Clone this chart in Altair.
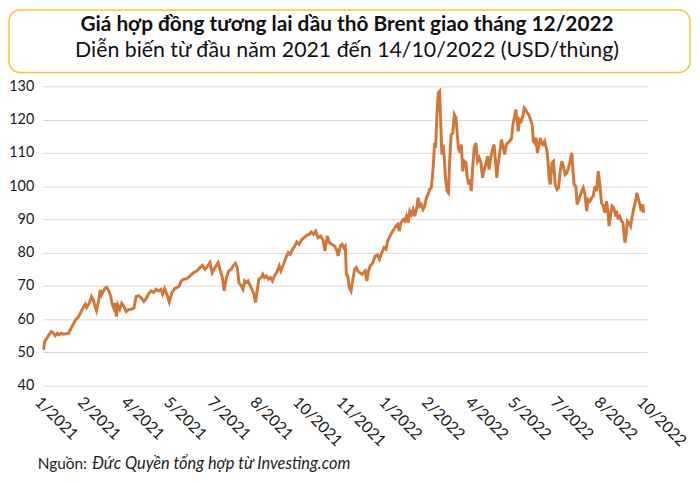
import altair as alt
import pandas as pd

# ---------------- data ----------------
# days since 2021-01-01 for each sampled point of the Dec-2022 Brent futures line
day_offsets = [
    3.0, 4.1, 6.6, 8.7, 11.3, 13.0, 15.5, 17.7, 19.4, 22.0, 23.7, 27.3, 30.1, 32.6, 35.1, 38.0, 40.8, 43.3, 45.8, 47.9,
    49.3, 52.2, 54.7, 56.8, 58.6, 60.0, 62.2, 64.0, 65.4, 67.2, 69.0, 71.1, 73.6, 75.4, 77.1, 78.6, 80.0, 81.4, 82.9, 85.0,
    87.2, 89.6, 92.1, 94.2, 96.8, 100.3, 102.8, 105.7, 108.5, 111.0,
    113.5, 116.4, 118.8, 121.7, 124.2, 127.0, 129.5, 131.3, 133.5, 135.9, 138.5, 141.3, 144.1, 146.6, 149.2, 151.3, 153.8,
    157.3, 160.9, 164.5, 168.0, 171.6, 174.1, 177.0, 179.4, 182.3, 184.8, 187.6, 191.2, 193.6, 195.8, 197.6, 200.1, 202.6,
    205.4, 207.2, 209.7, 211.8, 213.6, 216.1, 217.9,
    219.7, 221.4, 223.3, 225.0, 227.5, 229.7, 231.5, 233.2, 235.0, 237.5, 239.3, 241.1, 243.2, 245.4, 247.5, 249.7, 251.8,
    254.6, 257.1, 258.9, 261.7, 264.2, 266.8, 268.9, 271.4, 273.8, 276.0, 278.5, 281.0, 283.9, 286.6, 289.2, 291.7, 293.8,
    296.3, 298.8, 301.6, 304.2, 306.3, 308.8, 311.2, 314.1, 316.6, 318.7, 320.5, 323.0, 324.8,
    326.6, 328.3, 329.4, 330.9, 332.6, 334.4, 336.2, 338.4, 340.1, 341.9, 343.7, 346.2, 348.0, 349.7, 351.5, 353.3, 355.1,
    358.0, 360.4, 363.0, 365.1, 367.6, 370.0, 372.2, 374.0, 376.5, 378.3, 380.7, 382.8, 384.7, 386.5, 388.2, 390.8, 392.5,
    394.3, 396.1, 397.8, 399.6, 401.4, 403.2, 405.0, 406.8, 408.5, 410.3, 412.1, 413.9, 415.7, 417.5, 419.2, 421.0, 422.1,
    423.5, 424.5, 425.6, 427.1, 428.5, 429.9,
    431.0, 432.4, 433.8, 434.9, 436.3, 438.1, 439.5, 440.6, 442.4, 444.2, 445.9, 447.7, 448.8, 450.2, 452.0, 453.4, 454.9,
    456.6, 458.4, 459.8, 461.3, 462.7, 464.1, 465.6, 467.3, 469.1, 470.9, 472.7, 474.5, 476.3, 478.0, 479.8, 481.6, 483.3,
    485.1, 486.9, 488.7, 490.5, 491.6, 493.0, 494.8, 496.6, 498.3, 500.1, 501.9, 503.7, 505.5, 507.6, 509.0, 510.8, 512.2,
    513.7, 514.8, 516.2, 518.0, 519.7, 521.2, 522.6, 524.4, 526.1, 527.9, 529.7, 531.1, 532.5, 534.0, 535.4, 536.8, 538.6,
    539.7, 541.1, 543.2, 545.8, 546.8, 548.2, 549.3, 551.1, 552.8, 554.6, 556.5, 558.2, 560.0, 561.8, 563.5, 565.3, 567.1,
    568.9, 570.7, 572.5, 573.5, 575.0, 576.8, 578.2, 579.6, 581.4, 583.2, 584.9, 586.7, 588.5, 590.2, 592.1, 593.8, 595.6,
    597.4, 599.2, 601.0, 602.7, 604.5, 606.3, 608.1, 609.9, 611.6, 612.7, 614.2, 615.9, 617.7, 619.5, 620.9, 622.3, 624.1,
    625.9, 627.7, 628.7, 629.8, 630.9, 632.4, 634.1, 635.9, 637.7, 639.4, 641.2, 642.6, 644.4, 645.8, 647.3, 649.0, 650.1,
]

# price in USD/barrel
brent_dec22 = [
    50.8, 53.3, 54.3, 55.3, 56.3, 56.0, 55.0, 55.8, 55.3, 55.8, 55.5, 55.6, 55.8, 57.3, 58.6, 60.0, 60.8, 62.3, 63.6, 64.5,
    63.5, 64.8, 66.8, 65.6, 63.8, 62.6, 65.3, 68.8, 67.3, 68.3, 69.3, 69.6, 68.3, 66.8, 64.3, 63.3, 64.8, 60.8, 64.3, 63.0,
    64.8, 63.8, 62.3, 62.8, 63.0, 63.3, 66.8, 67.0, 66.3, 65.3,
    66.2, 67.8, 68.5, 68.0, 69.0, 68.5, 69.0, 67.5, 69.2, 67.5, 65.2, 68.0, 69.2, 69.5, 70.0, 71.5, 72.0,
    72.2, 73.0, 74.0, 74.5, 75.5, 76.2, 75.0, 75.8, 77.0, 74.0, 75.5, 77.0, 74.5, 72.5, 68.5, 72.5, 74.5,
    75.0, 76.0, 76.8, 75.5, 71.0, 70.0, 69.0,
    71.5, 71.0, 71.5, 70.5, 69.0, 67.5, 65.0, 68.5, 72.0, 72.5, 73.5, 72.5, 73.0, 72.0, 72.5, 71.5, 73.0,
    74.2, 76.0, 74.5, 76.5, 78.5, 80.0, 79.5, 81.0, 82.0, 83.2, 82.5, 83.8, 84.5, 85.2, 85.5, 86.2, 85.5,
    86.5, 84.5, 85.0, 83.8, 80.5, 85.0, 83.0, 82.5, 82.0, 81.0, 79.0, 82.0, 82.5,
    81.5, 82.0, 73.5, 73.0, 69.5, 68.5, 71.5, 75.0, 75.5, 74.5, 74.0, 73.5, 74.0, 74.5, 71.5, 74.5, 76.0,
    77.0, 79.0, 79.3, 78.0, 80.0, 81.5, 81.0, 83.5, 85.0, 86.0, 87.0, 88.0, 88.5, 86.5, 89.0, 90.0, 89.5,
    91.0, 89.0, 92.5, 91.5, 93.0, 91.0, 93.0, 96.5, 94.0, 94.5, 93.0, 94.0, 96.5, 97.5, 99.0, 99.5, 102.5,
    107.5, 113.0, 111.5, 121.5, 128.0, 128.5,
    120.5, 109.5, 112.5, 109.0, 102.5, 98.5, 98.0, 106.5, 115.5, 116.0, 121.5, 120.5, 116.5, 111.5, 110.0, 112.5, 104.5,
    107.5, 107.0, 102.5, 100.5, 102.0, 98.5, 105.5, 111.5, 113.0, 107.5, 108.5, 107.0, 102.5, 105.0, 106.5, 109.0, 105.0,
    108.5, 111.0, 112.5, 106.5, 102.5, 106.5, 110.0, 114.0, 112.0, 109.5, 112.5, 113.0, 113.5, 114.5, 118.5, 121.0, 123.0,
    119.5, 116.5, 120.0, 119.5, 121.0, 123.5, 123.0, 122.0, 121.5, 120.0, 118.5, 113.5, 113.0, 114.5, 110.0, 112.0, 114.5,
    113.0, 112.5, 113.5, 110.5, 107.5, 102.0, 100.5, 107.0, 107.5, 100.5, 99.0, 99.5, 104.5, 107.5, 106.0, 103.5, 104.0,
    105.5, 107.5, 110.0, 105.5, 100.5, 100.0, 94.5, 95.5, 97.0, 98.5, 99.5, 97.5, 92.5, 96.0, 95.5, 96.5, 97.0,
    100.0, 98.5, 104.5, 100.5, 95.0, 94.0, 92.0, 95.5, 92.0, 88.0, 91.0, 94.0, 93.5, 91.5, 92.0, 90.5, 91.0,
    89.5, 89.0, 86.0, 83.0, 85.0, 89.5, 89.0, 88.0, 91.0, 93.5, 95.5, 98.0, 96.0, 94.5, 92.5, 94.5, 92.0,
]

# x-axis tick positions (labelled m/yyyy)
tick_dates = ["2021-01-03", "2021-02-18", "2021-04-06", "2021-05-22", "2021-07-08", "2021-08-23",
              "2021-10-08", "2021-11-24", "2022-01-09", "2022-02-24", "2022-04-12", "2022-05-28",
              "2022-07-13", "2022-08-29", "2022-10-14"]
y_ticks = [40, 50, 60, 70, 80, 90, 100, 110, 120, 130]

title_text = "Giá hợp đồng tương lai dầu thô Brent giao tháng 12/2022"
subtitle_text = "Diễn biến từ đầu năm 2021 đến 14/10/2022 (USD/thùng)"
source_label = "Nguồn:"
source_text = "Đức Quyền tổng hợp từ Investing.com"

# ---------------- build ----------------
df = pd.DataFrame({
    "date": pd.Timestamp("2021-01-01") + pd.to_timedelta(day_offsets, unit="D"),
    "price": brent_dec22,
})


def dt(s):
    y, m, d = (int(p) for p in s.split("-"))
    return alt.DateTime(year=y, month=m, date=d)


FONT = "Lato"
W, H = 610, 302

line = alt.Chart(df).mark_line(color="#D2773A", strokeWidth=3).encode(
    x=alt.X("date:T",
            scale=alt.Scale(domain=[dt("2021-01-03"), dt("2022-10-17")]),
            axis=alt.Axis(values=[dt(s) for s in tick_dates], format="%-m/%Y", title=None,
                          grid=False, domain=False, ticks=False, labelAngle=45, labelAlign="left",
                          labelBaseline="top", labelPadding=8, labelFontSize=16, labelFont=FONT,
                          labelColor="#1a1a1a", labelOverlap=False, labelFlush=False)),
    y=alt.Y("price:Q",
            scale=alt.Scale(domain=[40, 130], nice=False, zero=False),
            axis=alt.Axis(values=y_ticks, title=None, domain=False, ticks=False, grid=True,
                          gridColor="#d9d9d9", gridWidth=1, labelPadding=9, labelFontSize=14.5,
                          labelFont=FONT, labelColor="#1a1a1a")),
)

one = pd.DataFrame({"t": [0]})

box = alt.Chart(one).mark_rect(fill="white", fillOpacity=0, stroke="#F4C542", strokeWidth=1.5,
                               cornerRadius=11).encode(
    x=alt.value(-34), x2=alt.value(653), y=alt.value(-77), y2=alt.value(-14))

title = alt.Chart(pd.DataFrame({"t": [title_text]})).mark_text(
    font=FONT, fontSize=21, fontWeight="bold", color="#111111", align="center", baseline="middle"
).encode(text="t:N", x=alt.value(307), y=alt.value(-62))

subtitle = alt.Chart(pd.DataFrame({"t": [subtitle_text]})).mark_text(
    font=FONT, fontSize=21.5, color="#111111", align="center", baseline="middle"
).encode(text="t:N", x=alt.value(307), y=alt.value(-36))

src1 = alt.Chart(pd.DataFrame({"t": [source_label]})).mark_text(
    font=FONT, fontSize=15.5, color="#222222", align="left", baseline="middle"
).encode(text="t:N", x=alt.value(-5), y=alt.value(381))

src2 = alt.Chart(pd.DataFrame({"t": [source_text]})).mark_text(
    font=FONT, fontSize=16.5, fontStyle="italic", color="#222222", align="left", baseline="middle"
).encode(text="t:N", x=alt.value(50), y=alt.value(381))

chart = alt.layer(line, box, title, subtitle, src1, src2).properties(
    width=W, height=H,
    autosize=alt.AutoSizeParams(type="none"),
    padding={"left": 35, "top": 77, "right": 45, "bottom": 88},
).configure_view(stroke=None)

chart.save("out.html", embed_options={"renderer": "svg", "actions": False})
